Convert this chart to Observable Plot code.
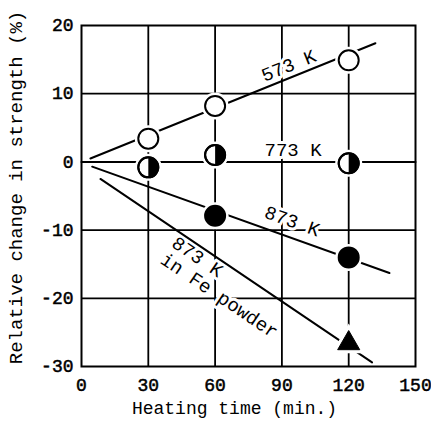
<!DOCTYPE html>
<html>
<head>
<meta charset="utf-8">
<script src="https://cdn.jsdelivr.net/npm/d3@7"></script>
<script src="https://cdn.jsdelivr.net/npm/@observablehq/plot@0.6"></script>
<style>
  html, body { margin: 0; padding: 0; background: white; }
  g[aria-label="ink"] text, g[aria-label$="tick label"] text { stroke: black; stroke-width: 0.5px; }
</style>
</head>
<body>
<div id="chart"></div>
<script>
// Tick values
const xTicks = [0, 30, 60, 90, 120, 150];
const yTicks = [-30, -20, -10, 0, 10, 20];
const xGrid = [30, 60, 90, 120];
const yGrid = [-20, -10, 10];

// Measured points (heating time, relative change %)
const t573 = [30, 60, 120];
const v573 = [3.4, 8.2, 14.9];
const t773 = [30, 60, 120];
const v773 = [-0.8, 1.0, -0.2];
const t873 = [60, 120];
const v873 = [-7.9, -14.0];
const tFe = [120];
const vFe = [-26.6];

// Fitted trend lines (start/end)
const fit573x = [4, 132], fit573y = [0.5, 17.4];
const fit773x = [0, 150], fit773y = [0, 0];
const fit873x = [4.8, 138.3], fit873y = [-0.7, -16.3];
const fitFex = [8.5, 130.5], fitFey = [-2.5, -29.4];

// Labels
const xLabel = "Heating time (min.)";
const yLabel = "Relative change in strength (%)";
const notes = [
  {x: 93, y: 14.1, text: "573 K", rotate: -22},
  {x: 95, y: 1.75, text: "773 K", rotate: 0},
  {x: 94.6, y: -8.7, text: "873 K", rotate: 19.7}
];
const noteFe = [{x: 43.5, y: -10.6, text: "873 K\nin Fe powder"}];

const pts = (xs, ys) => xs.map((x, i) => ({x, y: ys[i]}));
const p573 = pts(t573, v573), p773 = pts(t773, v773), p873 = pts(t873, v873), pFe = pts(tFe, vFe);
const allPts = [...p573, ...p773, ...p873];

const halfRight = {
  draw(context, size) {
    const r = Math.sqrt(size / Math.PI);
    context.moveTo(0, -r);
    context.arc(0, 0, r, -Math.PI / 2, Math.PI / 2);
    context.closePath();
  }
};

const font = 18;
const R = 10;
const noteOpts = {x: "x", y: "y", text: "text", rotate: "rotate", fontSize: 19};
const feOpts = {x: "x", y: "y", text: "text", rotate: 34, textAnchor: "start", lineAnchor: "top", lineHeight: 1.05, fontSize: 19};
const chart = Plot.plot({
  width: 431,
  height: 429,
  marginLeft: 81,
  marginRight: 16,
  marginTop: 25,
  marginBottom: 63,
  x: {domain: [0, 150]},
  y: {domain: [-30, 20]},
  style: {fontFamily: "'Liberation Mono', 'Courier New', monospace", background: "white", color: "black"},
  marks: [
    Plot.ruleX(xGrid, {stroke: "black", strokeWidth: 1.8}),
    Plot.ruleY(yGrid, {stroke: "black", strokeWidth: 1.8}),
    // white halos behind annotation text
    Plot.text(notes, {...noteOpts, fill: "white", stroke: "white", strokeWidth: 6}),
    Plot.text(noteFe, {...feOpts, fill: "white", stroke: "white", strokeWidth: 6}),
    Plot.line(pts(fit573x, fit573y), {x: "x", y: "y", stroke: "black", strokeWidth: 2}),
    Plot.line(pts(fit773x, fit773y), {x: "x", y: "y", stroke: "black", strokeWidth: 2}),
    Plot.line(pts(fit873x, fit873y), {x: "x", y: "y", stroke: "black", strokeWidth: 2}),
    Plot.line(pts(fitFex, fitFey), {x: "x", y: "y", stroke: "black", strokeWidth: 2}),
    Plot.text(notes, {...noteOpts, fill: "black", ariaLabel: "ink"}),
    Plot.text(noteFe, {...feOpts, fill: "black", ariaLabel: "ink"}),
    // white halos around markers
    Plot.dot(allPts, {x: "x", y: "y", r: R, fill: "white", stroke: "white", strokeWidth: 7}),
    Plot.dot(pFe, {x: "x", y: "y", r: 8.2, symbol: "triangle", fill: "white", stroke: "white", strokeWidth: 7}),
    // markers
    Plot.dot(p573, {x: "x", y: "y", r: R, fill: "white", stroke: "black", strokeWidth: 2}),
    Plot.dot(p773, {x: "x", y: "y", r: R, fill: "white", stroke: "black", strokeWidth: 2}),
    Plot.dot(p773, {x: "x", y: "y", r: R, symbol: halfRight, fill: "black", stroke: "none"}),
    Plot.dot(p773, {x: "x", y: "y", r: R, fill: "none", stroke: "black", strokeWidth: 2}),
    Plot.dot(p873, {x: "x", y: "y", r: R, fill: "black", stroke: "black", strokeWidth: 2}),
    Plot.dot(pFe, {x: "x", y: "y", r: 8.2, symbol: "triangle", fill: "black", stroke: "black", strokeWidth: 1}),
    Plot.frame({stroke: "black", strokeWidth: 2}),
    Plot.axisX({ticks: xTicks, tickSize: 0, tickPadding: 12, fontSize: font, label: null, tickFormat: d => String(d)}),
    Plot.axisY({ticks: yTicks, tickSize: 0, tickPadding: 8, fontSize: font, label: null, tickFormat: d => String(d)}),
    Plot.text([xLabel], {frameAnchor: "bottom", textAnchor: "middle", lineAnchor: "middle", dx: -14, dy: 42, fontSize: font, fill: "black", ariaLabel: "ink"}),
    Plot.text([yLabel], {frameAnchor: "left", textAnchor: "middle", lineAnchor: "middle", rotate: -90, dx: -66, dy: -8.5, fontSize: 19, fill: "black", ariaLabel: "ink"})
  ]
});
document.getElementById("chart").appendChild(chart);
</script>
</body>
</html>
